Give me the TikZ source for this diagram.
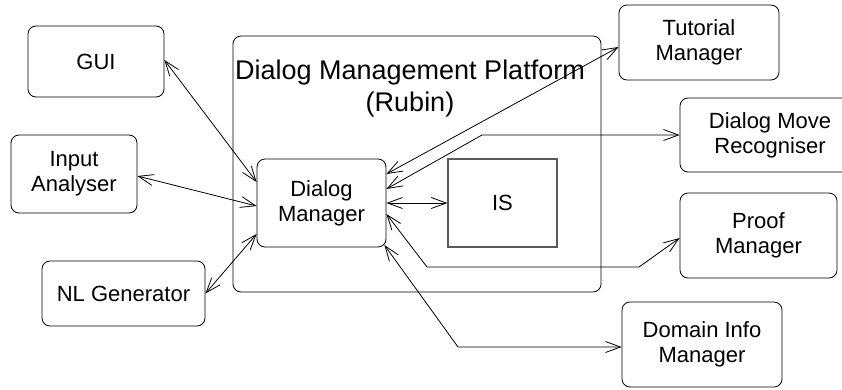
\documentclass[tikz,border=0pt]{standalone}
\usepackage{fontspec}
\setmainfont{Liberation Sans}
\usetikzlibrary{arrows.meta,calc}
\tikzset{
  box/.style={draw=black, line width=0.8pt, rounded corners=8pt, inner sep=0pt, align=center,
    font=\fontsize{22}{25}\selectfont},
  sqbox/.style={draw=black!65, line width=1.2pt, inner sep=0pt, align=center,
    font=\fontsize{22}{25}\selectfont},
  link/.style={line width=0.8pt, {Straight Barb[length=15pt,width=11pt]}-{Straight Barb[length=15pt,width=11pt]}},
}
\begin{document}
\begin{tikzpicture}[x=1pt,y=-1pt]
\useasboundingbox (0,0) rectangle (842,389);
\clip (0,0) rectangle (842,389);
\fill[white] (0,0) rectangle (842,389);
% platform
\draw[line width=0.8pt, rounded corners=8pt] (233,36) rectangle (601,292);
\node[font=\fontsize{27}{32}\selectfont, align=center] (title) at (410,89) {Dialog Management Platform\\(Rubin)};
% boxes
\node[box, minimum width=136pt, minimum height=71pt] (gui) at (96,61.5) {GUI};
\node[box, minimum width=126pt, minimum height=78pt] (ia) at (74,174) {Input\\Analyser};
\node[box, minimum width=163pt, minimum height=65pt] (nlg) at (123.5,293.5) {NL Generator};
\node[box, minimum width=129pt, minimum height=88pt] (dm) at (321.5,203) {Dialog\\Manager};
\node[sqbox, minimum width=109pt, minimum height=88pt] (is) at (502.5,203) {IS};
\node[box, minimum width=160pt, minimum height=75pt] (tm) at (699,42.5) {Tutorial\\Manager};
\node[box, minimum width=180pt, minimum height=74pt] (dmr) at (770,135) {Dialog Move\\Recogniser};
\node[box, minimum width=157pt, minimum height=85pt] (pm) at (758.5,235.5) {Proof\\Manager};
\node[box, minimum width=160pt, minimum height=85pt] (dim) at (702,344.5) {Domain Info\\Manager};
% bend points
\coordinate (b1) at (482,135);
\coordinate (b2) at (427,267);
\coordinate (b3) at (639,267);
\coordinate (b4) at (458,347);
% connectors
\draw[link] ([yshift=1.5pt]gui.east) -- ([yshift=21pt]dm.west);
\draw[link] ([yshift=-2pt]ia.east) -- ([yshift=-3pt]dm.west);
\draw[link] (nlg.east) -- ([yshift=-31pt]dm.west);
\draw[link] ([yshift=-4.5pt]tm.west) -- ([yshift=29pt]dm.east);
\draw[link] ([yshift=14pt]dm.east) -- (b1) -- (dmr.west);
\draw[link] (dm.east) -- (is.west);
\draw[link] ([yshift=-11pt]dm.east) -- (b2) -- (b3) -- ([yshift=-2.5pt]pm.west);
\draw[link] ([yshift=-42pt,xshift=-2pt]dm.east) -- (b4) -- ([yshift=-2.5pt]dim.west);
\end{tikzpicture}
\end{document}
